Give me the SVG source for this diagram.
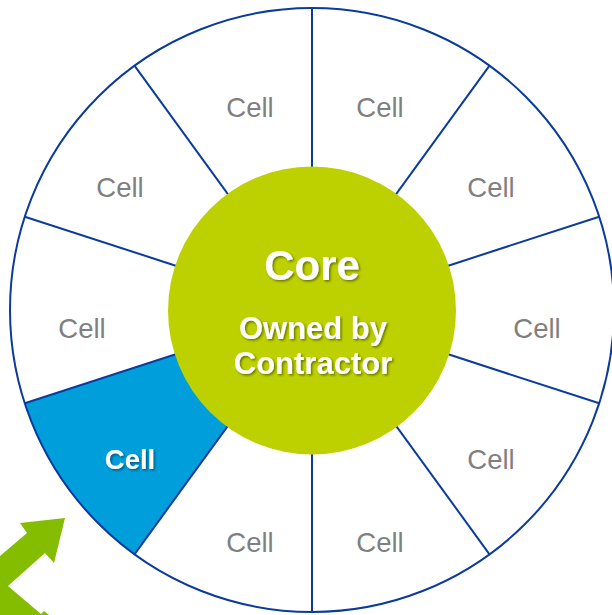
<svg xmlns="http://www.w3.org/2000/svg" width="612" height="615" viewBox="0 0 612 615">
  <defs>
    <filter id="shadow" x="-20%" y="-20%" width="140%" height="140%">
      <feDropShadow dx="1.5" dy="1.5" stdDeviation="0.8" flood-color="#000" flood-opacity="0.45"/>
    </filter>
    <style>
      .ring { fill: #ffffff; stroke: #0b3b9b; stroke-width: 2; }
      .divider { stroke: #0b3b9b; stroke-width: 2; fill: none; }
      .cell { font-family: "Liberation Sans", Arial, sans-serif; font-size: 27.5px; fill: #808080; text-anchor: middle; }
      .cell-on { font-family: "Liberation Sans", Arial, sans-serif; font-size: 27.5px; font-weight: bold; fill: #ffffff; text-anchor: middle; filter: url(#shadow); }
      .core-title { font-family: "Liberation Sans", Arial, sans-serif; font-size: 42px; font-weight: bold; fill: #ffffff; text-anchor: middle; filter: url(#shadow); }
      .core-sub { font-family: "Liberation Sans", Arial, sans-serif; font-size: 31px; font-weight: bold; fill: #ffffff; text-anchor: middle; filter: url(#shadow); }
    </style>
  </defs>

  <rect width="612" height="615" fill="#ffffff"/>

  <!-- outer ring background -->
  <circle cx="312" cy="310" r="302" fill="#ffffff"/>

  <!-- highlighted cell sector -->
  <g id="cell-highlight">
    <path d="M312,310 L24.8,403.3 A302,302 0 0 0 134.5,554.3 Z" fill="#009fdc"/>
  </g>

  <!-- sector dividers -->
  <g id="connectors">
    <line class="divider" x1="312" y1="170" x2="312" y2="8"/>
    <line class="divider" x1="229.7" y1="196.7" x2="134.5" y2="65.7"/>
    <line class="divider" x1="178.8" y1="266.7" x2="24.8" y2="216.7"/>
    <line class="divider" x1="178.8" y1="353.3" x2="24.8" y2="403.3"/>
    <line class="divider" x1="229.7" y1="423.3" x2="134.5" y2="554.3"/>
    <line class="divider" x1="312" y1="450" x2="312" y2="612"/>
    <line class="divider" x1="394.3" y1="423.3" x2="489.5" y2="554.3"/>
    <line class="divider" x1="445.2" y1="353.3" x2="599.2" y2="403.3"/>
    <line class="divider" x1="445.2" y1="266.7" x2="599.2" y2="216.7"/>
    <line class="divider" x1="394.3" y1="196.7" x2="489.5" y2="65.7"/>
  </g>

  <!-- outer ring outline -->
  <circle cx="312" cy="310" r="302" fill="none" stroke="#0b3b9b" stroke-width="2"/>

  <!-- cells -->
  <g id="cell-1"><text class="cell" x="250" y="117">Cell</text></g>
  <g id="cell-2"><text class="cell" x="380" y="117">Cell</text></g>
  <g id="cell-3"><text class="cell" x="491" y="197">Cell</text></g>
  <g id="cell-4"><text class="cell" x="537" y="338">Cell</text></g>
  <g id="cell-5"><text class="cell" x="491" y="469">Cell</text></g>
  <g id="cell-6"><text class="cell" x="380" y="552">Cell</text></g>
  <g id="cell-7"><text class="cell" x="250" y="552">Cell</text></g>
  <g id="cell-8"><text class="cell-on" x="130" y="469">Cell</text></g>
  <g id="cell-9"><text class="cell" x="82" y="338">Cell</text></g>
  <g id="cell-10"><text class="cell" x="120" y="197">Cell</text></g>

  <!-- core -->
  <g id="core">
    <circle cx="312" cy="310.5" r="144" fill="#bdd100"/>
    <text class="core-title" x="312" y="280">Core</text>
    <text class="core-sub" x="313" y="339">Owned by</text>
    <text class="core-sub" x="313" y="374">Contractor</text>
  </g>

  <!-- bent arrow, bottom left -->
  <g id="arrow">
    <polygon fill="#84bc00" points="65,518 54,563 45,553 8,586 41,614 44,611 49,615 0,615 0,556 27,533 20,523"/>
  </g>
</svg>
